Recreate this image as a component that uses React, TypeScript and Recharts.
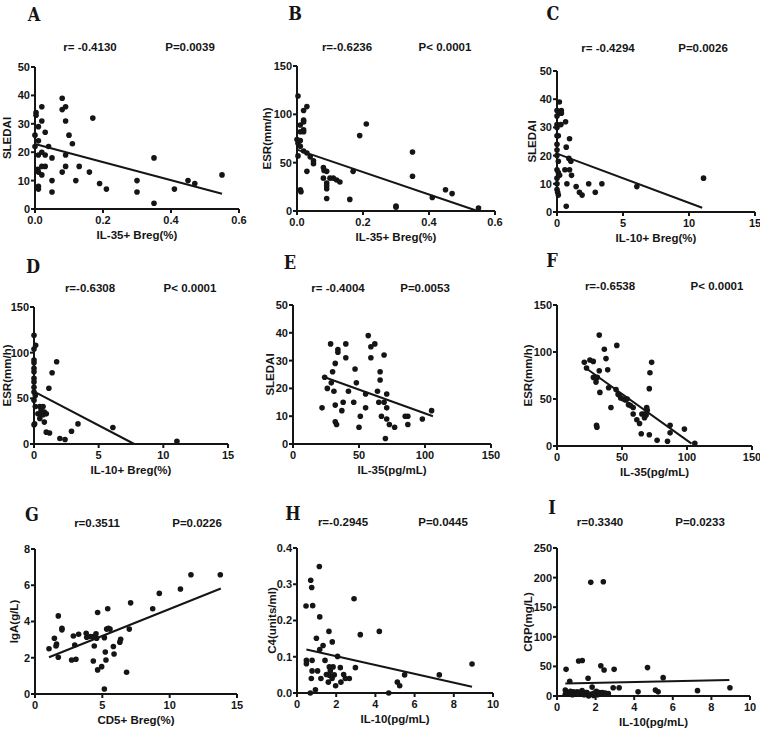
import { ScatterChart, Scatter, XAxis, YAxis } from 'recharts';

type Pt = [number, number];

// values, [x, y]
const aPoints: Pt[] = [
    [0.003, 34], [0.003, 33], [0, 26], [0, 22], [0.01, 29], [0.01, 24], [0.02, 36], [0.02, 31],
    [0.03, 27], [0.04, 22], [0.01, 19], [0.02, 20], [0.03, 19], [0.05, 18], [0.008, 14], [0.01, 13],
    [0.02, 15], [0.03, 15], [0.02, 12], [0.01, 8], [0.01, 7], [0.05, 10], [0.05, 6], [0.08, 39],
    [0.08, 35], [0.09, 36], [0.09, 31], [0.1, 26], [0.11, 23], [0.09, 19], [0.09, 15], [0.08, 13],
    [0.12, 10], [0.13, 15], [0.17, 32], [0.16, 13], [0.19, 9], [0.21, 7], [0.3, 10], [0.3, 6],
    [0.35, 18], [0.35, 2], [0.41, 7], [0.45, 10], [0.47, 9], [0.55, 12],
];
const aFit: Pt[] = [[0, 22.9], [0.55, 5.4]];

const bPoints: Pt[] = [
    [0.003, 119], [0, 74], [0.003, 70], [0.003, 57], [0.01, 89], [0.01, 82], [0.01, 73], [0.01, 67],
    [0.02, 84], [0.02, 82], [0.02, 94], [0.02, 92], [0.02, 104], [0.03, 108], [0.02, 62], [0.03, 60],
    [0.04, 56], [0.05, 52], [0.05, 49], [0.03, 41], [0.01, 22], [0.012, 20], [0.08, 45], [0.082, 42],
    [0.09, 41], [0.08, 34], [0.1, 34], [0.11, 34], [0.12, 32], [0.13, 30], [0.09, 29], [0.09, 26],
    [0.09, 23], [0.09, 13], [0.16, 12], [0.17, 41], [0.19, 78], [0.21, 90], [0.3, 5], [0.3, 4],
    [0.35, 61], [0.35, 36], [0.41, 14], [0.45, 22], [0.47, 18], [0.55, 3],
];
const bFit: Pt[] = [[0, 63.5], [0.545, 0.3]];

const cPoints: Pt[] = [
    [0.18, 39], [0, 36], [0.33, 36], [0.2, 35], [0, 34], [0.33, 35], [0, 31], [0.3, 31],
    [0.65, 32], [0, 30], [0, 27], [0.1, 27], [0, 24], [0, 22], [0, 20], [0.7, 23],
    [0.95, 26], [0.1, 18], [0.9, 19], [1.05, 18], [0, 15], [0.1, 14], [0, 12], [0.2, 13],
    [0.6, 15], [0.95, 15], [1.1, 13], [0, 10], [0.75, 10], [0, 8], [0.05, 7], [0.1, 6],
    [1.45, 9], [1.7, 7], [1.9, 6], [2.4, 10], [2.9, 7], [3.4, 10], [0.7, 2], [6.05, 9], [11.1, 12],
];
const cFit: Pt[] = [[0, 20.7], [11.0, 1.5]];

const dPoints: Pt[] = [
    [0, 119], [0.13, 108], [0, 104], [0, 92], [0, 89], [0, 83], [0, 79], [0, 72], [0, 68],
    [0, 62], [0, 57], [0.1, 53], [0, 48], [0.1, 41], [0, 21], [0.05, 22], [0.45, 41], [0.7, 41],
    [0.3, 33], [0.45, 28], [0.55, 33], [0.7, 32], [0.8, 35], [0.95, 33], [0.55, 37], [0.8, 24],
    [0.95, 13], [1.2, 12], [1.15, 61], [1.4, 78], [1.75, 90], [2.0, 6], [2.4, 5], [2.9, 14],
    [3.4, 22], [6.1, 18], [11.05, 3],
];
const dFit: Pt[] = [[0.05, 57], [7.75, 0]];

const ePoints: Pt[] = [
    [28.5, 36], [22, 13], [24, 24], [26, 20], [30, 26], [29, 22], [32, 29], [31, 19], [32, 14],
    [32, 8], [33, 7], [34, 34], [34, 33], [38, 15], [37, 12], [40, 36], [40, 31], [42, 19],
    [47, 27], [48, 22], [46, 15], [51, 10], [50, 6], [55, 18], [55, 13], [57, 39], [59, 35],
    [62, 36], [59, 31], [64, 19], [65, 15], [66, 26], [66, 23], [67, 10], [69, 32], [69, 15],
    [70, 2], [71, 18], [71, 13], [71, 9], [73, 7], [77, 6], [85, 10], [87, 10], [87, 7], [98, 9], [105, 12],
];
const eFit: Pt[] = [[24, 24], [106, 10]];

const fPoints: Pt[] = [
    [21, 89], [22.7, 83], [25.3, 91.5], [27.9, 90], [32.5, 118], [32.5, 80], [28, 73], [30, 72],
    [31, 73], [30, 68], [33, 57], [30.4, 22], [30.7, 20], [36.4, 103], [37.7, 93], [39, 81],
    [39.7, 62], [41.5, 41], [46, 107], [45.4, 60], [47, 55], [48, 54], [49, 51], [51, 50],
    [52.6, 49], [54, 50], [55, 44], [56.5, 43], [58.6, 41], [58.6, 34], [61.4, 28], [63.5, 24],
    [64.8, 13], [65.3, 34], [67, 34], [67.3, 30], [68.6, 33], [69, 41], [69.4, 38], [71, 12],
    [71, 61], [71.5, 78], [72.8, 89], [77, 6], [85, 5], [87, 22], [87, 14], [98, 18], [106, 3],
];
const fFit: Pt[] = [[21, 84], [103.5, 2.5]];

const gPoints: Pt[] = [
    [1.04, 2.5], [1.44, 3.08], [1.56, 2.65], [1.6, 2.76], [1.73, 4.31], [1.73, 2.03], [2.0, 3.54],
    [2.0, 3.63], [2.72, 1.88], [2.85, 3.2], [2.95, 2.7], [3.04, 1.92], [3.24, 3.3], [3.8, 3.35],
    [3.84, 3.13], [4.1, 3.17], [4.33, 3.17], [4.4, 2.65], [4.33, 1.82], [4.53, 3.32], [4.58, 3.08],
    [4.65, 4.5], [4.65, 1.33], [4.95, 1.51], [5.15, 3.11], [5.22, 2.32], [5.27, 1.88], [5.15, 0.28],
    [5.32, 3.58], [5.45, 3.63], [5.4, 4.7], [5.57, 3.58], [5.82, 2.62], [5.87, 2.21], [6.3, 2.86],
    [6.36, 3.02], [6.8, 1.2], [7.0, 3.58], [7.1, 5.03], [8.74, 4.7], [9.23, 5.55], [10.8, 5.79],
    [11.58, 6.58], [13.76, 6.58],
];
const gFit: Pt[] = [[1.04, 2.03], [13.8, 5.82]];

const hPoints: Pt[] = [
    [0.46, 0.24], [0.48, 0.09], [0.48, 0.081], [0.68, 0.0], [0.7, 0.311], [0.75, 0.291], [0.8, 0.241],
    [0.77, 0.09], [0.77, 0.061], [0.73, 0.04], [0.94, 0.009], [0.99, 0.151], [1.05, 0.061], [1.14, 0.349],
    [1.16, 0.21], [1.16, 0.12], [1.33, 0.131], [1.22, 0.04], [1.43, 0.09], [1.5, 0.051], [1.63, 0.17],
    [1.65, 0.072], [1.65, 0.049], [1.6, 0.03], [1.7, 0.061], [1.8, 0.141], [1.84, 0.072], [1.79, 0.04],
    [1.9, 0.05], [1.97, 0.02], [2.07, 0.101], [2.21, 0.07], [2.24, 0.03], [2.38, 0.051], [2.47, 0.04],
    [2.67, 0.04], [2.91, 0.26], [2.98, 0.07], [3.23, 0.161], [4.2, 0.17], [4.68, 0.0], [5.12, 0.03],
    [5.24, 0.02], [5.49, 0.05], [7.26, 0.05], [8.93, 0.08],
];
const hFit: Pt[] = [[0.48, 0.12], [8.93, 0.017]];

const iPoints: Pt[] = [
    [0.47, 45], [0.43, 10], [0.43, 3], [0.66, 25], [0.74, 6], [0.92, 6], [1.04, 7], [1.18, 4],
    [1.12, 59], [1.31, 60], [1.35, 3], [1.49, 6], [1.61, 30], [1.64, 0], [1.75, 192], [1.82, 15],
    [1.87, 4], [2.04, 8], [2.21, 6], [2.27, 51], [2.4, 193], [2.44, 44], [2.25, 3], [2.66, 4],
    [2.91, 14], [2.96, 45], [3.22, 14], [4.2, 7], [4.69, 48], [5.1, 10], [5.24, 7], [5.5, 31],
    [7.28, 9], [8.96, 14], [0.5, 5], [0.6, 3], [0.8, 2], [0.85, 7], [1.0, 3], [1.1, 5], [1.25, 7],
    [1.4, 2], [1.55, 6], [1.7, 3], [1.95, 5], [2.1, 2], [2.35, 6], [0.7, 8], [1.3, 9], [1.9, 1], [2.5, 5],
];
const iFit: Pt[] = [[0.43, 21], [8.93, 27]];

const ticks0to50 = [0, 10, 20, 30, 40, 50];
const ticks0to150 = [0, 50, 100, 150];
const ticksBreg35 = [0, 0.2, 0.4, 0.6];
const ticks0to15 = [0, 5, 10, 15];
const ticksIl35 = [0, 50, 100, 150];
const ticksIgA = [0, 2, 4, 6, 8];
const ticks0to10 = [0, 2, 4, 6, 8, 10];
const ticksC4 = [0, 0.1, 0.2, 0.3, 0.4];
const ticksCrp = [0, 50, 100, 150, 200, 250];

const fixed1 = (v: number) => v.toFixed(1);
const plain = (v: number) => String(v);

const SANS = '"Liberation Sans", Arial, sans-serif';
const INK = '#151515';

const panels = [
    { letter: 'A', pts: aPoints, fit: aFit, rect: [35, 67, 239, 209], xTicks: ticksBreg35, yTicks: ticks0to50, xFmt: fixed1, yFmt: plain,
      xLabel: 'IL-35+ Breg(%)', yLabel: 'SLEDAI', yDist: 28, r: 'r= -0.4130', p: 'P=0.0039', lp: [34, 14], rp: [90, 47], pp: [190, 47] },
    { letter: 'B', pts: bPoints, fit: bFit, rect: [297, 66, 495, 211], xTicks: ticksBreg35, yTicks: ticks0to150, xFmt: fixed1, yFmt: plain,
      xLabel: 'IL-35+ Breg(%)', yLabel: 'ESR(mm/h)', yDist: 30, r: 'r=-0.6236', p: 'P< 0.0001', lp: [295, 13], rp: [347, 47], pp: [445, 47] },
    { letter: 'C', pts: cPoints, fit: cFit, rect: [557, 71, 755, 212], xTicks: ticks0to15, yTicks: ticks0to50, xFmt: plain, yFmt: plain,
      xLabel: 'IL-10+ Breg(%)', yLabel: 'SLEDAI', yDist: 25, r: 'r= -0.4294', p: 'P=0.0026', lp: [553, 13], rp: [608, 48], pp: [703, 48] },
    { letter: 'D', pts: dPoints, fit: dFit, rect: [34, 307, 228, 444], xTicks: ticks0to15, yTicks: ticks0to150, xFmt: plain, yFmt: plain,
      xLabel: 'IL-10+ Breg(%)', yLabel: 'ESR(mm/h)', yDist: 27, r: 'r=-0.6308', p: 'P< 0.0001', lp: [33, 266], rp: [90, 288], pp: [190, 288] },
    { letter: 'E', pts: ePoints, fit: eFit, rect: [293, 305, 491, 444], xTicks: ticksIl35, yTicks: ticks0to50, xFmt: plain, yFmt: plain,
      xLabel: 'IL-35(pg/mL)', yLabel: 'SLEDAI', yDist: 23, r: 'r= -0.4004', p: 'P=0.0053', lp: [290, 262], rp: [338, 288], pp: [425, 288] },
    { letter: 'F', pts: fPoints, fit: fFit, rect: [557, 305, 752, 446], xTicks: ticksIl35, yTicks: ticks0to150, xFmt: plain, yFmt: plain,
      xLabel: 'IL-35(pg/mL)', yLabel: 'ESR(mm/h)', yDist: 29, r: 'r=-0.6538', p: 'P< 0.0001', lp: [552, 260], rp: [610, 286], pp: [717, 286] },
    { letter: 'G', pts: gPoints, fit: gFit, rect: [35, 549, 237, 694], xTicks: ticks0to15, yTicks: ticksIgA, xFmt: plain, yFmt: plain,
      xLabel: 'CD5+ Breg(%)', yLabel: 'IgA(g/L)', yDist: 21, r: 'r=0.3511', p: 'P=0.0226', lp: [32, 514], rp: [97, 523], pp: [197, 523] },
    { letter: 'H', pts: hPoints, fit: hFit, rect: [297, 548, 493, 693], xTicks: ticks0to10, yTicks: ticksC4, xFmt: plain, yFmt: fixed1,
      xLabel: 'IL-10(pg/mL)', yLabel: 'C4(units/ml)', yDist: 25, r: 'r=-0.2945', p: 'P=0.0445', lp: [293, 513], rp: [343, 522], pp: [443, 522] },
    { letter: 'I', pts: iPoints, fit: iFit, rect: [557, 548, 750, 696], xTicks: ticks0to10, yTicks: ticksCrp, xFmt: plain, yFmt: plain,
      xLabel: 'IL-10(pg/mL)', yLabel: 'CRP(mg/L)', yDist: 29, r: 'r=0.3340', p: 'P=0.0233', lp: [552, 507], rp: [600, 522], pp: [700, 522] },
];

const Dot = (props: any) => <circle cx={props.cx} cy={props.cy} r={2.8} fill={INK} />;
const NoDot = () => <g />;

const toRows = (pts: Pt[]) => pts.map(([x, y]) => ({ x, y }));

const AXIS_W = 40;
const AXIS_H = 40;
const TOP = 10;
const RIGHT = 16;

const Panel = ({ cfg }: { cfg: typeof panels[number] }) => {
    const [l, t, r, b] = cfg.rect;
    const w = r - l + AXIS_W + RIGHT;
    const h = b - t + TOP + AXIS_H;
    const xs = cfg.xTicks;
    const ys = cfg.yTicks;
    const tickStyle = { fontSize: 11, fontWeight: 'bold', fill: INK, fontFamily: SANS };
    const axisLine = { stroke: INK, strokeWidth: 2 };
    return (
        <div style={{ position: 'absolute', left: l - AXIS_W, top: t - TOP }}>
            <ScatterChart width={w} height={h} margin={{ top: TOP, right: RIGHT, bottom: 0, left: 0 }}>
                <XAxis
                    type="number"
                    dataKey="x"
                    domain={[xs[0], xs[xs.length - 1]]}
                    ticks={xs}
                    tickFormatter={cfg.xFmt}
                    height={AXIS_H}
                    tick={tickStyle}
                    tickSize={4}
                    tickMargin={3}
                    axisLine={axisLine}
                    tickLine={axisLine}
                    interval={0}
                    label={{ value: cfg.xLabel, position: 'center', dy: 6, fontSize: 11.5, fontWeight: 'bold', fill: INK, fontFamily: SANS }}
                />
                <YAxis
                    type="number"
                    dataKey="y"
                    domain={[ys[0], ys[ys.length - 1]]}
                    ticks={ys}
                    tickFormatter={cfg.yFmt}
                    width={AXIS_W}
                    tick={tickStyle}
                    tickSize={4}
                    tickMargin={1}
                    axisLine={axisLine}
                    tickLine={axisLine}
                    interval={0}
                    label={{ value: cfg.yLabel, angle: -90, position: 'center', dx: AXIS_W / 2 - cfg.yDist, fontSize: 11.5, fontWeight: 'bold', fill: INK, fontFamily: SANS }}
                />
                <Scatter data={toRows(cfg.pts)} shape={Dot} isAnimationActive={false} />
                <Scatter data={toRows(cfg.fit)} shape={NoDot} line={{ stroke: INK, strokeWidth: 2 }} isAnimationActive={false} />
            </ScatterChart>
        </div>
    );
};

const textAt = (pos: number[], extra: any) => ({
    position: 'absolute' as const,
    left: pos[0],
    top: pos[1],
    transform: 'translate(-50%, -50%)',
    whiteSpace: 'nowrap' as const,
    color: INK,
    ...extra,
});

export default function App() {
    const note = { fontFamily: SANS, fontWeight: 'bold', fontSize: 11.5 };
    const letter = { fontFamily: '"DejaVu Serif Condensed", "DejaVu Serif", "Liberation Serif", serif', fontWeight: 'bold', fontSize: 18, fontStretch: 'condensed' };
    return (
        <div style={{ position: 'absolute', left: 0, top: 0, width: 760, height: 731, background: '#fff', overflow: 'hidden' }}>
            {panels.map(cfg => (
                <div key={cfg.letter}>
                    <Panel cfg={cfg} />
                    <div style={textAt(cfg.lp, letter)}>{cfg.letter}</div>
                    <div style={textAt(cfg.rp, note)}>{cfg.r}</div>
                    <div style={textAt(cfg.pp, note)}>{cfg.p}</div>
                </div>
            ))}
        </div>
    );
}
